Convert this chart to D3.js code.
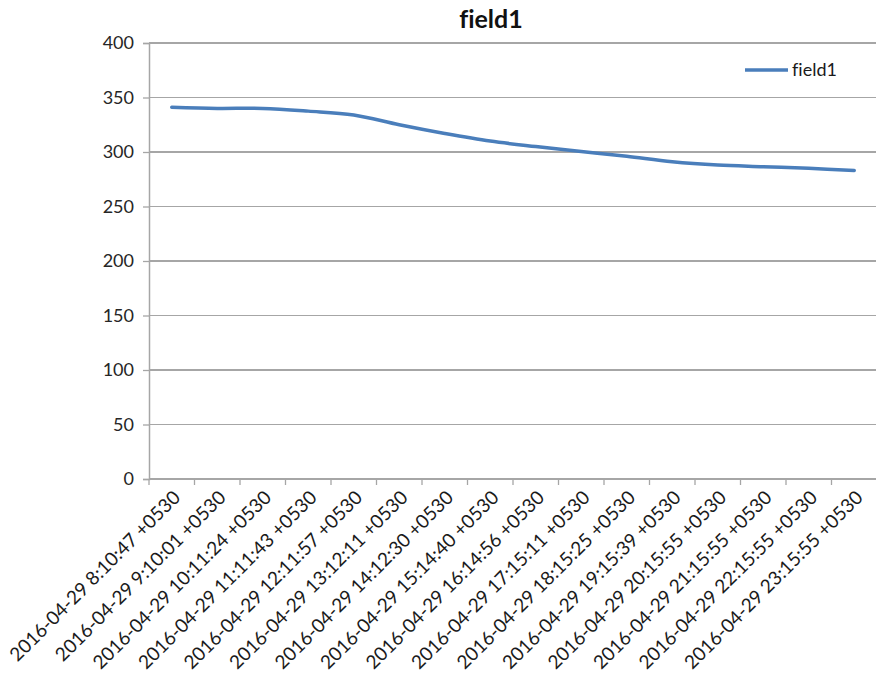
<!DOCTYPE html>
<html>
<head>
<meta charset="utf-8">
<script src="https://cdn.jsdelivr.net/npm/d3@7"></script>
<style>
  html, body { margin: 0; padding: 0; background: #fff; }
  svg { display: block; }
  text { font-family: Lato, "Open Sans", "Liberation Sans", sans-serif; font-variant-ligatures: none; }
</style>
</head>
<body>
<svg id="chart" width="876" height="682"></svg>
<script>
const categories = [
  "2016-04-29 8:10:47 +0530",
  "2016-04-29 9:10:01 +0530",
  "2016-04-29 10:11:24 +0530",
  "2016-04-29 11:11:43 +0530",
  "2016-04-29 12:11:57 +0530",
  "2016-04-29 13:12:11 +0530",
  "2016-04-29 14:12:30 +0530",
  "2016-04-29 15:14:40 +0530",
  "2016-04-29 16:14:56 +0530",
  "2016-04-29 17:15:11 +0530",
  "2016-04-29 18:15:25 +0530",
  "2016-04-29 19:15:39 +0530",
  "2016-04-29 20:15:55 +0530",
  "2016-04-29 21:15:55 +0530",
  "2016-04-29 22:15:55 +0530",
  "2016-04-29 23:15:55 +0530"
];
const field1 = [341, 340, 340, 337.5, 334, 325, 317, 310, 305, 300.5, 296, 291, 288, 286.5, 285, 283];
const yTicks = [0, 50, 100, 150, 200, 250, 300, 350, 400];
const seriesName = "field1";
const titleText = "field1";

const svg = d3.select("#chart");
const m = { left: 149, right: 877, top: 43, bottom: 479 };

const x = d3.scaleBand().domain(categories).range([m.left, m.right]).padding(0);
const y = d3.scaleLinear().domain([0, 400]).range([m.bottom, m.top]);

const gridColor = "#a6a6a6";
const textColor = "#262626";

// gridlines
svg.append("g").selectAll("line").data(yTicks).join("line")
  .attr("x1", m.left).attr("x2", m.right)
  .attr("y1", d => y(d)).attr("y2", d => y(d))
  .attr("stroke", gridColor).attr("stroke-width", 1.3)
  .attr("shape-rendering", "crispEdges");

// y axis
const yAxis = svg.append("g").attr("transform", `translate(${m.left},0)`)
  .call(d3.axisLeft(y).tickValues(yTicks).tickSize(6).tickPadding(9));
yAxis.select(".domain").attr("stroke", gridColor).attr("stroke-width", 1.5);
yAxis.selectAll(".tick line").attr("stroke", gridColor).attr("stroke-width", 1.3);
yAxis.selectAll(".tick text").attr("fill", textColor).attr("font-size", 18)
  .attr("font-family", "Lato, 'Open Sans', sans-serif");

// x axis: ticks at band boundaries
const xAxisG = svg.append("g").attr("transform", `translate(0,${m.bottom})`);
xAxisG.append("line").attr("x1", m.left).attr("x2", m.right)
  .attr("stroke", gridColor).attr("stroke-width", 1.5);
const boundaries = categories.map(c => x(c)).concat([x(categories[categories.length-1]) + x.bandwidth()]);
xAxisG.selectAll("line.tk").data(boundaries).join("line").attr("class", "tk")
  .attr("x1", d => d).attr("x2", d => d).attr("y1", 0).attr("y2", 6)
  .attr("stroke", gridColor).attr("stroke-width", 1.3);
xAxisG.selectAll("text").data(categories).join("text")
  .attr("transform", d => `translate(${x(d) + x.bandwidth()/2 + 5},${15}) rotate(-45)`)
  .attr("text-anchor", "end")
  .attr("dy", "0.35em")
  .attr("fill", "#1a1a1a")
  .attr("font-size", 19)
  .text(d => d);

// line
const line = d3.line()
  .x((d, i) => x(categories[i]) + x.bandwidth()/2)
  .y(d => y(d))
  .curve(d3.curveCatmullRom.alpha(0.5));
svg.append("path").datum(field1)
  .attr("d", line)
  .attr("fill", "none")
  .attr("stroke", "#4a7ebb")
  .attr("stroke-width", 3.5)
  .attr("stroke-linecap", "round");

// title
svg.append("text").attr("x", 491).attr("y", 28)
  .attr("text-anchor", "middle").attr("font-weight", "bold")
  .attr("font-size", 25).attr("fill", "#111").text(titleText);

// legend
const lg = svg.append("g").attr("transform", "translate(745,70)");
lg.append("line").attr("x1", 0).attr("x2", 43).attr("y1", 0).attr("y2", 0)
  .attr("stroke", "#4a7ebb").attr("stroke-width", 3.5);
lg.append("text").attr("x", 47).attr("y", 0).attr("dy", "0.35em")
  .attr("font-size", 18).attr("fill", "#1a1a1a").text(seriesName);
</script>
</body>
</html>
